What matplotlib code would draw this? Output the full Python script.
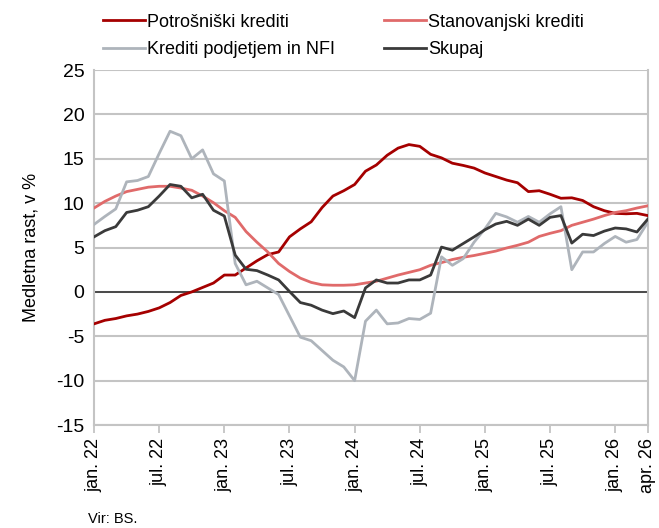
import matplotlib
matplotlib.use("Agg")
import matplotlib.pyplot as plt
import numpy as np

months = list(range(52))  # jan 2022 .. apr 2026
tick_pos = [0, 6, 12, 18, 24, 30, 36, 42, 48, 51]
tick_labels = ["jan. 22", "jul. 22", "jan. 23", "jul. 23", "jan. 24", "jul. 24",
               "jan. 25", "jul. 25", "jan. 26", "apr. 26"]

potrosniski = [-3.6, -3.2, -3.0, -2.7, -2.5, -2.2, -1.8, -1.2, -0.4, 0.0, 0.5, 1.0,
               1.9, 1.9, 2.7, 3.5, 4.2, 4.5, 6.2, 7.1, 7.9, 9.5, 10.8, 11.4,
               12.1, 13.6, 14.3, 15.4, 16.2, 16.6, 16.4, 15.5, 15.1, 14.5, 14.25, 13.95,
               13.4, 13.0, 12.6, 12.3, 11.3, 11.4, 11.0, 10.55, 10.6, 10.3, 9.6, 9.15,
               8.85, 8.8, 8.85, 8.6]
stanovanjski = [9.45, 10.2, 10.8, 11.3, 11.55, 11.8, 11.9, 11.9, 11.7, 11.45, 10.8, 10.05,
                9.15, 8.4, 6.8, 5.6, 4.5, 3.2, 2.3, 1.55, 1.07, 0.8, 0.75, 0.75,
                0.8, 1.0, 1.2, 1.55, 1.9, 2.2, 2.5, 3.0, 3.3, 3.65, 3.9, 4.1,
                4.35, 4.6, 4.95, 5.25, 5.6, 6.25, 6.6, 6.9, 7.5, 7.85, 8.2, 8.6,
                8.95, 9.15, 9.45, 9.7]
podjetja = [7.6, 8.5, 9.35, 12.4, 12.55, 13.0, 15.6, 18.1, 17.6, 15.0, 16.0, 13.3,
            12.5, 3.2, 0.8, 1.2, 0.45, -0.3, -2.7, -5.1, -5.5, -6.6, -7.7, -8.45,
            -10.0, -3.3, -2.05, -3.6, -3.5, -3.0, -3.1, -2.4, 3.95, 3.0, 3.75, 5.6,
            7.1, 8.85, 8.45, 7.85, 8.5, 7.85, 8.8, 9.6, 2.5, 4.5, 4.5, 5.45,
            6.25, 5.6, 5.9, 7.85]
skupaj = [6.2, 6.9, 7.35, 8.95, 9.2, 9.6, 10.8, 12.1, 11.9, 10.6, 11.0, 9.2,
          8.55, 4.15, 2.55, 2.4, 1.9, 1.35, 0.05, -1.2, -1.5, -2.05, -2.45, -2.15,
          -2.9, 0.45, 1.35, 1.0, 1.0, 1.35, 1.35, 1.9, 5.05, 4.7, 5.45, 6.2,
          7.0, 7.65, 7.95, 7.5, 8.2, 7.5, 8.4, 8.6, 5.5, 6.5, 6.35, 6.85,
          7.2, 7.1, 6.75, 8.2]

series = [
    ("Potrošniški krediti", potrosniski, "#a50000"),
    ("Stanovanjski krediti", stanovanjski, "#e06a6a"),
    ("Krediti podjetjem in NFI", podjetja, "#aeb4bb"),
    ("Skupaj", skupaj, "#3a3a3a"),
]

plt.rcParams['font.family'] = ['Liberation Sans', 'DejaVu Sans']
plt.rcParams['axes.unicode_minus'] = False

fig = plt.figure(figsize=(6.59, 5.28), dpi=100)
ax = fig.add_axes([0.1427, 0.195, 0.8403, 0.6724])

ax.set_ylim(-15, 25)
ax.set_xlim(0, 51)
ax.set_yticks(range(-15, 26, 5))
ax.yaxis.grid(True, color="#c4c4c4", linewidth=1.5)
ax.set_axisbelow(True)
ax.axhline(0, color="#404040", linewidth=1.3, zorder=2)

handles = {}
for name, vals, col in series:
    h, = ax.plot(months, vals, color=col, linewidth=2.0, label=name, zorder=3)
    handles[name] = h

ax.spines["top"].set_visible(False)
for s in ["left", "right", "bottom"]:
    ax.spines[s].set_color("#c4c4c4")
    ax.spines[s].set_linewidth(1.5)

ax.set_xticks(tick_pos)
ax.set_xticklabels(tick_labels, rotation=90, fontsize=13)
ax.tick_params(axis="x", length=6, width=1.3, color="#c4c4c4", pad=3)
ax.tick_params(axis="y", length=0, labelsize=14, pad=7)
ax.set_ylabel("Medletna rast, v %", fontsize=13, labelpad=12)

order = ["Potrošniški krediti", "Krediti podjetjem in NFI",
         "Stanovanjski krediti", "Skupaj"]
leg = fig.legend(handles=[handles[n] for n in order],
                 loc="upper left", bbox_to_anchor=(0.132, 1.005), ncol=2,
                 frameon=False, fontsize=13, handlelength=2.3,
                 handletextpad=0.15, columnspacing=2.7, labelspacing=0.6)

fig.text(0.133, 0.01, "Vir: BS.", fontsize=10.5)

fig.savefig("out.png", dpi=100)
